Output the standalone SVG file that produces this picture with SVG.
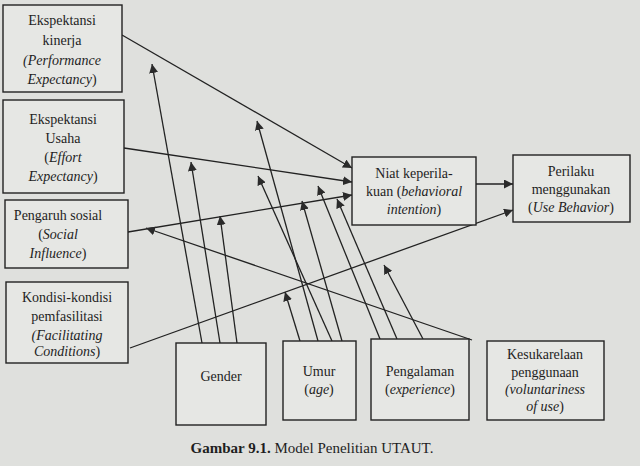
<svg xmlns="http://www.w3.org/2000/svg" width="640" height="466" viewBox="0 0 640 466">
<defs><marker id="a" viewBox="0 0 10 10" refX="10" refY="5" markerWidth="9" markerHeight="9" markerUnits="userSpaceOnUse" orient="auto"><path d="M0,0L10,5L0,10z" fill="#2a2a2a"/></marker></defs>
<style>
rect{fill:#e6e7e4;stroke:#222;stroke-width:1.4}
text{font-family:"Liberation Serif","Times New Roman","DejaVu Serif",serif;font-size:14px;fill:#1e1e1e;text-anchor:middle}
.i{font-style:italic}
#c line{stroke:#222;stroke-width:1.3;marker-end:url(#a)}
</style>
<rect x="0" y="0" width="640" height="466" style="fill:#dfe0dd;stroke:none"/>
<g id="c">
<line x1="122" y1="35" x2="352" y2="168"/>
<line x1="124" y1="148" x2="352" y2="182"/>
<line x1="128" y1="232" x2="352" y2="195"/>
<line x1="130" y1="348" x2="513" y2="210"/>
<line x1="476" y1="184" x2="513" y2="184"/>
<line x1="202" y1="343" x2="152" y2="64"/>
<line x1="220" y1="343" x2="191" y2="162"/>
<line x1="237" y1="343" x2="220" y2="216"/>
<line x1="300" y1="341" x2="285" y2="292"/>
<line x1="318" y1="341" x2="257" y2="121"/>
<line x1="332" y1="341" x2="258" y2="176"/>
<line x1="342" y1="341" x2="302" y2="201"/>
<line x1="380" y1="339" x2="318" y2="186"/>
<line x1="397" y1="339" x2="337" y2="199"/>
<line x1="423" y1="339" x2="384" y2="265"/>
<line x1="472" y1="340" x2="146" y2="228"/>
</g>
<g id="n1"><rect x="3" y="5" width="119" height="87"/><text x="62" y="25">Ekspektansi</text><text x="62" y="45">kinerja</text><text x="62" y="65" class="i">(Performance</text><text x="62" y="84"><tspan class="i">Expectancy</tspan>)</text></g>
<g id="n2"><rect x="3" y="100" width="121" height="93"/><text x="63" y="124">Ekspektansi</text><text x="63" y="143">Usaha</text><text x="63" y="162">(<tspan class="i">Effort</tspan></text><text x="63" y="181"><tspan class="i">Expectancy</tspan>)</text></g>
<g id="n3"><rect x="5" y="200" width="123" height="68"/><text x="58" y="220">Pengaruh sosial</text><text x="58" y="239">(<tspan class="i">Social</tspan></text><text x="58" y="258"><tspan class="i">Influence</tspan>)</text></g>
<g id="n4"><rect x="6" y="282" width="122" height="81"/><text x="67" y="302">Kondisi-kondisi</text><text x="67" y="321">pemfasilitasi</text><text x="67" y="340" class="i">(Facilitating</text><text x="67" y="356"><tspan class="i">Conditions</tspan>)</text></g>
<g id="n5"><rect x="352" y="157" width="124" height="68"/><text x="414" y="178">Niat keperila-</text><text x="414" y="196">kuan (<tspan class="i">behavioral</tspan></text><text x="414" y="214"><tspan class="i">intention</tspan>)</text></g>
<g id="n6"><rect x="513" y="155" width="117" height="67"/><text x="571" y="176">Perilaku</text><text x="571" y="194">menggunakan</text><text x="571" y="212">(<tspan class="i">Use Behavior</tspan>)</text></g>
<g id="n7"><rect x="176" y="343" width="90" height="82"/><text x="221" y="381">Gender</text></g>
<g id="n8"><rect x="283" y="341" width="73" height="79"/><text x="319" y="376">Umur</text><text x="319" y="394">(<tspan class="i">age</tspan>)</text></g>
<g id="n9"><rect x="371" y="339" width="98" height="81"/><text x="420" y="376">Pengalaman</text><text x="420" y="394">(<tspan class="i">experience</tspan>)</text></g>
<g id="n10"><rect x="487" y="341" width="117" height="79"/><text x="545" y="359">Kesukarelaan</text><text x="545" y="377">penggunaan</text><text x="545" y="394" class="i">(voluntariness</text><text x="545" y="411"><tspan class="i">of use</tspan>)</text></g>
<text x="312" y="453" style="font-size:15px"><tspan font-weight="bold">Gambar 9.1.</tspan> Model Penelitian UTAUT.</text>
</svg>
